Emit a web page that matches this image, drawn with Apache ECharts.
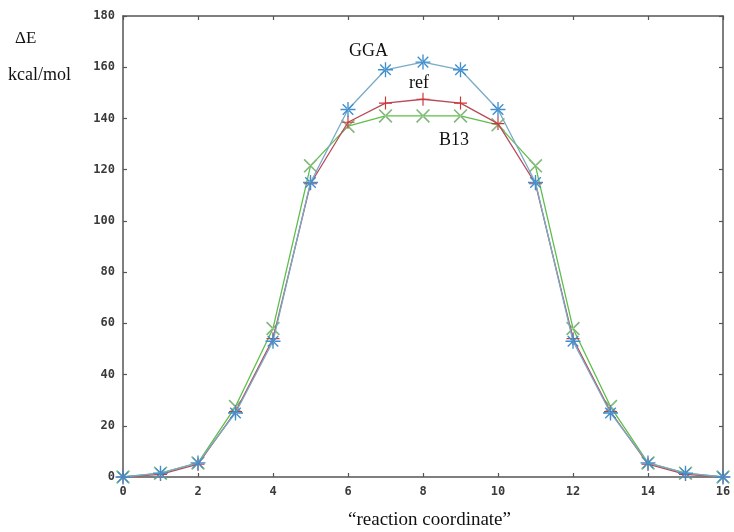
<!DOCTYPE html>
<html>
<head>
<meta charset="utf-8">
<script src="https://cdn.jsdelivr.net/npm/echarts@6/dist/echarts.min.js"></script>
<style>
  html, body { margin: 0; padding: 0; background: #fff; }
  #chart { width: 734px; height: 532px; }
</style>
</head>
<body>
<div id="chart"></div>
<script>
// Reaction coordinate steps and energy barrier (kcal/mol) for each method
const steps = [0, 1, 2, 3, 4, 5, 6, 7, 8, 9, 10, 11, 12, 13, 14, 15, 16];
const ggaValues = [0, 1.5, 5.5, 25, 53, 115, 143.5, 159, 162, 159, 143.5, 115, 53, 25, 5.5, 1.5, 0];
const refValues = [0, 1, 5, 25.5, 54, 114.5, 138.5, 146, 147.5, 146, 138, 114.5, 54, 25.5, 5, 1, 0];
const b13Values = [0, 1.5, 5.5, 27.5, 58, 121.5, 137, 141, 141, 141, 137.5, 121.5, 58, 27.5, 5.5, 1.5, 0];
const yTicks = { min: 0, max: 180, step: 20 };
const xTicks = { min: 0, max: 16, step: 2 };

// Thin-stroke marker glyphs drawn as filled paths
const plusPath = 'path://M-0.9,-10h1.8v20h-1.8z M-10,-0.9h20v1.8h-20z';
const crossPath = 'path://M-7.7,-6.4L6.4,7.7L7.7,6.4L-6.4,-7.7Z M6.4,-7.7L7.7,-6.4L-6.4,7.7L-7.7,6.4Z';
const starPath = 'path://M-0.9,-10h1.8v20h-1.8z M-10,-0.9h20v1.8h-20z ' +
  'M-7.7,-6.4L6.4,7.7L7.7,6.4L-6.4,-7.7Z M6.4,-7.7L7.7,-6.4L-6.4,7.7L-7.7,6.4Z';

const pairs = vals => steps.map((s, i) => [s, vals[i]]);

const tickFont = {
  fontFamily: 'DejaVu Sans Mono',
  fontWeight: 'bold',
  fontSize: 12,
  color: '#3a3a3a'
};
const frameLine = { show: true, onZero: false, lineStyle: { color: '#555', width: 1.5 } };
const innerTick = { show: true, inside: true, length: 4, lineStyle: { color: '#555', width: 1.2 } };

const chart = echarts.init(document.getElementById('chart'), null, { renderer: 'canvas' });

chart.setOption({
  animation: false,
  backgroundColor: '#fff',
  grid: { left: 123, right: 11, top: 16, bottom: 55, containLabel: false },
  xAxis: [
    {
      type: 'value', position: 'bottom',
      min: xTicks.min, max: xTicks.max, interval: xTicks.step,
      axisLine: frameLine, axisTick: innerTick,
      axisLabel: Object.assign({ margin: 9 }, tickFont),
      splitLine: { show: false }
    },
    {
      type: 'value', position: 'top',
      min: xTicks.min, max: xTicks.max, interval: xTicks.step,
      axisLine: frameLine, axisTick: innerTick,
      axisLabel: { show: false }, splitLine: { show: false }
    }
  ],
  yAxis: [
    {
      type: 'value', position: 'left',
      min: yTicks.min, max: yTicks.max, interval: yTicks.step,
      axisLine: frameLine, axisTick: innerTick,
      axisLabel: Object.assign({ margin: 8 }, tickFont),
      splitLine: { show: false }
    },
    {
      type: 'value', position: 'right',
      min: yTicks.min, max: yTicks.max, interval: yTicks.step,
      axisLine: frameLine, axisTick: innerTick,
      axisLabel: { show: false }, splitLine: { show: false }
    }
  ],
  series: [
    {
      name: 'B13', type: 'line', data: pairs(b13Values),
      symbol: crossPath, symbolSize: 14,
      lineStyle: { color: '#5cbf4c', width: 1.3 },
      itemStyle: { color: '#84b87c' }, z: 2
    },
    {
      name: 'ref', type: 'line', data: pairs(refValues),
      symbol: plusPath, symbolSize: 13,
      lineStyle: { color: '#b84a5a', width: 1.3 },
      itemStyle: { color: '#cf3636' }, z: 3
    },
    {
      name: 'GGA', type: 'line', data: pairs(ggaValues),
      symbol: starPath, symbolSize: 15,
      lineStyle: { color: '#78aac6', width: 1.3 },
      itemStyle: { color: '#3f8fce' }, z: 4
    }
  ],
  graphic: [
    { type: 'text', left: 349, top: 42, style: { text: 'GGA', font: '18px "Liberation Serif"', fill: '#111' } },
    { type: 'text', left: 409, top: 74, style: { text: 'ref', font: '18px "Liberation Serif"', fill: '#111' } },
    { type: 'text', left: 439, top: 131, style: { text: 'B13', font: '18px "Liberation Serif"', fill: '#111' } },
    { type: 'text', left: 15, top: 30, style: { text: 'ΔE', font: '17px "Liberation Serif"', fill: '#111' } },
    { type: 'text', left: 8, top: 66, style: { text: 'kcal/mol', font: '18px "Liberation Serif"', fill: '#111' } },
    { type: 'text', left: 348, top: 511, style: { text: '\u201Creaction coordinate\u201D', font: '19px "Liberation Serif"', fill: '#111' } }
  ]
});
</script>
</body>
</html>
